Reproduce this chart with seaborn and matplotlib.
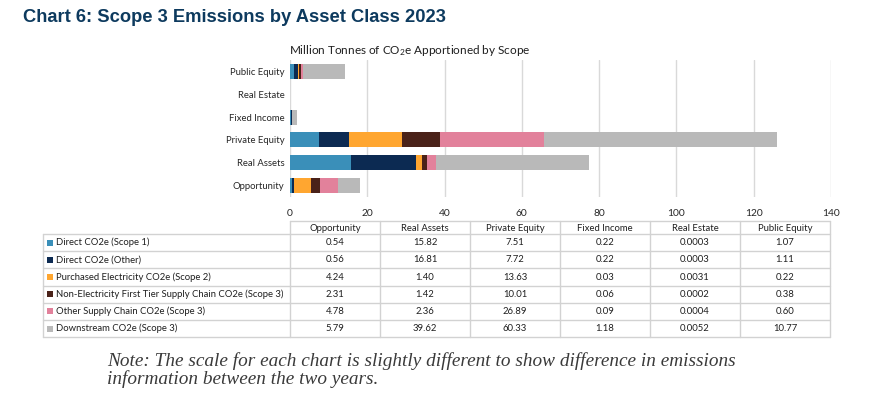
import numpy as np
import pandas as pd
import matplotlib
matplotlib.use("Agg")
import matplotlib.pyplot as plt
import seaborn as sns
from matplotlib.patches import Rectangle
from matplotlib.lines import Line2D

# ---------------- data ----------------
asset_classes = ["Opportunity", "Real Assets", "Private Equity", "Fixed Income",
                 "Real Estate", "Public Equity"]
scope_names = ["Direct CO2e (Scope 1)",
               "Direct CO2e (Other)",
               "Purchased Electricity CO2e (Scope 2)",
               "Non-Electricity First Tier Supply Chain CO2e (Scope 3)",
               "Other Supply Chain CO2e (Scope 3)",
               "Downstream CO2e (Scope 3)"]
direct_scope1 = [0.54, 15.82, 7.51, 0.22, 0.0003, 1.07]
direct_other = [0.56, 16.81, 7.72, 0.22, 0.0003, 1.11]
purchased_elec = [4.24, 1.40, 13.63, 0.03, 0.0031, 0.22]
non_elec_tier1 = [2.31, 1.42, 10.01, 0.06, 0.0002, 0.38]
other_supply = [4.78, 2.36, 26.89, 0.09, 0.0004, 0.60]
downstream = [5.79, 39.62, 60.33, 1.18, 0.0052, 10.77]
column_decimals = [2, 2, 2, 2, 4, 2]
chart_order = list(reversed(asset_classes))
x_ticks = [0, 20, 40, 60, 80, 100, 120, 140]

series = [direct_scope1, direct_other, purchased_elec, non_elec_tier1, other_supply, downstream]
colors = ["#3a8fb9", "#0c2a52", "#ffa630", "#4a2219", "#e2819b", "#b9b9b9"]

# ---------------- style ----------------
sns.set_theme(style="white")
plt.rcParams["font.family"] = ["Lato", "DejaVu Sans"]
plt.rcParams["mathtext.default"] = "regular"

W, H = 876, 398
fig = plt.figure(figsize=(W / 100, H / 100), dpi=100)
fig.patch.set_facecolor("white")


def fx(x):
    return x / W


def fy(y):
    return 1 - y / H


ax = fig.add_axes([fx(290), fy(197), fx(831) - fx(290), fy(60) - fy(197)])

cum = np.cumsum(np.array(series), axis=0)
for i in reversed(range(len(series))):
    df = pd.DataFrame({"asset": asset_classes, "value": cum[i]})
    sns.barplot(data=df, x="value", y="asset", order=chart_order, color=colors[i],
                saturation=1, width=0.65, linewidth=0, errorbar=None, ax=ax)

ax.set_xlim(0, 140)
ax.set_xticks(x_ticks)
ax.set_xticklabels([str(t) for t in x_ticks])
ax.grid(axis="x", color="#d9d9d9", linewidth=1)
ax.grid(axis="y", visible=False)
ax.set_axisbelow(True)
for s in ax.spines.values():
    s.set_visible(False)
ax.tick_params(axis="x", length=0, pad=8.5, labelsize=7.4, labelcolor="#262626")
ax.tick_params(axis="y", length=0, pad=4, labelsize=6.8, labelcolor="#262626")
ax.set_xlabel("")
ax.set_ylabel("")
ax.set_facecolor("white")

# subtitle
fig.text(fx(289), fy(50), "Million Tonnes of CO$_2$e Apportioned by Scope",
         ha="left", va="center", fontsize=8.5, color="#1f1f1f")

# main title
fig.text(fx(23), fy(18), "Chart 6: Scope 3 Emissions by Asset Class 2023",
         ha="left", va="center", fontsize=13.2, fontweight="bold", color="#0d3a5e",
         family=["Liberation Sans", "DejaVu Sans"])

# ---------------- table ----------------
line_c = "#d2d2d2"
tab_left = 43
col_edges = [290 + 90 * k for k in range(7)]
hdr_top, hdr_bot = 221, 234
row_h = 17.2
row_edges = [hdr_bot + row_h * i for i in range(7)]
tab_fs = 6.85
txt_c = "#1f1f1f"


def hline(x0, x1, y):
    fig.add_artist(Line2D([fx(x0), fx(x1)], [fy(y), fy(y)], color=line_c, lw=1))


def vline(x, y0, y1):
    fig.add_artist(Line2D([fx(x), fx(x)], [fy(y0), fy(y1)], color=line_c, lw=1))


hline(col_edges[0], col_edges[-1], hdr_top)
for x in col_edges:
    vline(x, hdr_top, row_edges[-1])
vline(tab_left, row_edges[0], row_edges[-1])
for y in row_edges:
    hline(tab_left, col_edges[-1], y)

for j, name in enumerate(asset_classes):
    cx = (col_edges[j] + col_edges[j + 1]) / 2
    fig.text(fx(cx), fy((hdr_top + hdr_bot) / 2 + 0.5), name, ha="center", va="center",
             fontsize=tab_fs, color=txt_c)

for i, name in enumerate(scope_names):
    cy = row_edges[i] + row_h / 2
    fig.add_artist(Rectangle((fx(47), fy(cy + 3)), fx(6), fy(0) - fy(6),
                             transform=fig.transFigure, facecolor=colors[i],
                             edgecolor="none"))
    fig.text(fx(55.5), fy(cy), name, ha="left", va="center", fontsize=tab_fs, color=txt_c)
    for j in range(len(asset_classes)):
        cx = (col_edges[j] + col_edges[j + 1]) / 2
        fig.text(fx(cx), fy(cy), f"{series[i][j]:.{column_decimals[j]}f}",
                 ha="center", va="center", fontsize=tab_fs, color=txt_c)

# note
note_kw = dict(ha="left", va="center", fontsize=13.9, style="italic", color="#3a3a3a",
               family=["Liberation Serif", "DejaVu Serif"])
fig.text(fx(107), fy(361), "Note: The scale for each chart is slightly different to show difference in emissions", **note_kw)
fig.text(fx(107), fy(379), "information between the two years.", **note_kw)

fig.savefig("out.png", dpi=100, facecolor="white")
